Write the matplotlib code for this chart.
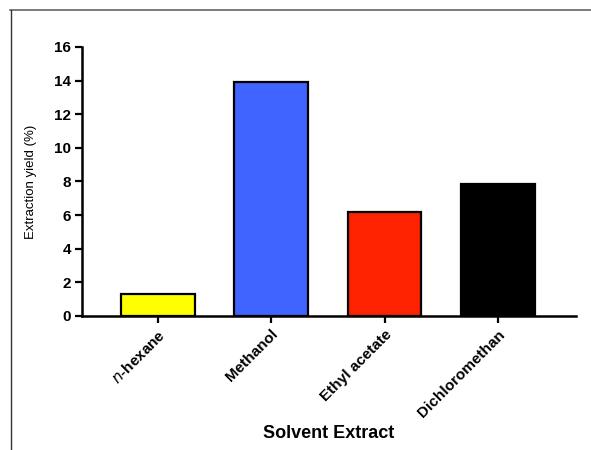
import matplotlib
matplotlib.use('Agg')
import matplotlib.pyplot as plt
from matplotlib.lines import Line2D

plt.rcParams['font.family'] = ['Liberation Sans', 'DejaVu Sans']

# data
solvents = ['$\\it{n}$-hexane', 'Methanol', 'Ethyl acetate', 'Dichloromethan']
yields = [1.3, 13.9, 6.2, 7.85]
colors = ['#ffff00', '#3f64ff', '#ff2200', '#000000']
yticks = [0, 2, 4, 6, 8, 10, 12, 14, 16]

fig = plt.figure(figsize=(5.91, 4.5), dpi=100)
ax = fig.add_axes([0.1387, 0.2978, 0.8359, 0.5978])

x = range(len(solvents))
ax.bar(x, yields, width=0.65, color=colors, edgecolor='black', linewidth=1.6, zorder=3)

ax.set_xlim(-0.67, 3.69)
ax.set_ylim(0, 16)
ax.set_yticks(yticks)
ax.set_xticks(list(x))
ax.set_xticklabels(solvents, rotation=45, ha='right', rotation_mode='anchor',
                   fontsize=11, fontweight='bold')
for lab in ax.get_yticklabels():
    lab.set_fontsize(11)
    lab.set_fontweight('bold')

ax.spines['top'].set_visible(False)
ax.spines['right'].set_visible(False)
ax.spines['left'].set_linewidth(1.8)
ax.spines['bottom'].set_linewidth(1.8)
ax.tick_params(axis='y', direction='out', length=5, width=1.6, pad=3)
ax.tick_params(axis='x', direction='out', length=5, width=1.6, pad=3)

ax.set_ylabel('Extraction yield (%)', fontsize=9.5, labelpad=12)
ax.set_xlabel('Solvent Extract', fontsize=13, fontweight='bold', labelpad=4)

# outer frame (top and left edges only)
fig.add_artist(Line2D([10/591, 1.0], [1 - 10/450, 1 - 10/450], transform=fig.transFigure,
                      color='#666666', linewidth=1.2))
fig.add_artist(Line2D([11/591, 11/591], [0, 1 - 10/450], transform=fig.transFigure,
                      color='#333333', linewidth=1.0))

fig.savefig('out.png', dpi=100)
